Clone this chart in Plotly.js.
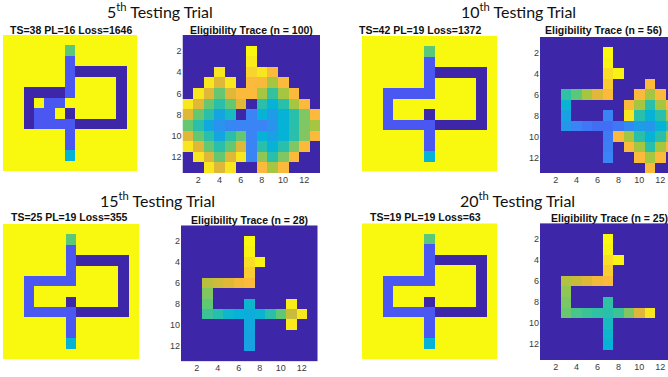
<!DOCTYPE html>
<html>
<head>
<meta charset="utf-8">
<script src="https://cdn.plot.ly/plotly-3.0.1.min.js"></script>
<style>html,body{margin:0;padding:0;background:#fff;}#chart{width:668px;height:377px;}</style>
</head>
<body>
<div id="chart"></div>
<script>
// ---------- data ----------
const gridIndex = [1,2,3,4,5,6,7,8,9,10,11,12,13];
const tickValues = [2,4,6,8,10,12];
const tickLabels = ["2","4","6","8","10","12"];

const trialTitles = ["5<sup>th</sup> Testing Trial","10<sup>th</sup> Testing Trial","15<sup>th</sup> Testing Trial","20<sup>th</sup> Testing Trial"];
const mazeTitles = ["TS=38 PL=16 Loss=1646","TS=42 PL=19 Loss=1372","TS=25 PL=19 Loss=355","TS=19 PL=19 Loss=63"];
const traceTitles = ["Eligibility Trace (n = 100)","Eligibility Trace (n = 56)","Eligibility Trace (n = 28)","Eligibility Trace (n = 25)"];

// maze maps: 0 = unused corridor, 0.2 = walked path, 0.45 = goal, 0.63 = start, 1 = background
const maze5 = [
 [1,1,1,1,1,1,1,1,1,1,1,1,1],
 [1,1,1,1,1,1,0.63,1,1,1,1,1,1],
 [1,1,1,1,1,1,0.2,1,1,1,1,1,1],
 [1,1,1,1,1,1,0.2,0,0,0,0,0,1],
 [1,1,1,1,1,1,0.2,1,1,1,1,0,1],
 [1,1,0,0,0,0,0.2,1,1,1,1,0,1],
 [1,1,0,1,0.2,0.2,1,1,1,1,1,0,1],
 [1,1,0,0.2,0.2,1,0,1,1,1,1,0,1],
 [1,1,0,0.2,0.2,0.2,0.2,0,0,0,0,0,1],
 [1,1,1,1,1,1,0.2,1,1,1,1,1,1],
 [1,1,1,1,1,1,0.2,1,1,1,1,1,1],
 [1,1,1,1,1,1,0.45,1,1,1,1,1,1],
 [1,1,1,1,1,1,1,1,1,1,1,1,1]
];
const maze10 = [
 [1,1,1,1,1,1,1,1,1,1,1,1,1],
 [1,1,1,1,1,1,0.63,1,1,1,1,1,1],
 [1,1,1,1,1,1,0.2,1,1,1,1,1,1],
 [1,1,1,1,1,1,0.2,0,0,0,0,0,1],
 [1,1,1,1,1,1,0.2,1,1,1,1,0,1],
 [1,1,0.2,0.2,0.2,0.2,0.2,1,1,1,1,0,1],
 [1,1,0.2,1,1,1,1,1,1,1,1,0,1],
 [1,1,0.2,1,1,1,0,1,1,1,1,0,1],
 [1,1,0.2,0.2,0.2,0.2,0.2,0,0,0,0,0,1],
 [1,1,1,1,1,1,0.2,1,1,1,1,1,1],
 [1,1,1,1,1,1,0.2,1,1,1,1,1,1],
 [1,1,1,1,1,1,0.45,1,1,1,1,1,1],
 [1,1,1,1,1,1,1,1,1,1,1,1,1]
];
const maze15 = [
 [1,1,1,1,1,1,1,1,1,1,1,1,1],
 [1,1,1,1,1,1,0.63,1,1,1,1,1,1],
 [1,1,1,1,1,1,0.2,1,1,1,1,1,1],
 [1,1,1,1,1,1,0.2,0,0,0,0,0,1],
 [1,1,1,1,1,1,0.2,1,1,1,1,0,1],
 [1,1,0.2,0.2,0.2,0.2,0.2,1,1,1,1,0,1],
 [1,1,0.2,1,1,1,1,1,1,1,1,0,1],
 [1,1,0.2,1,1,1,0,1,1,1,1,0,1],
 [1,1,0.2,0.2,0.2,0.2,0.2,0,0,0,0,0,1],
 [1,1,1,1,1,1,0.2,1,1,1,1,1,1],
 [1,1,1,1,1,1,0.2,1,1,1,1,1,1],
 [1,1,1,1,1,1,0.45,1,1,1,1,1,1],
 [1,1,1,1,1,1,1,1,1,1,1,1,1]
];
const maze20 = [
 [1,1,1,1,1,1,1,1,1,1,1,1,1],
 [1,1,1,1,1,1,0.63,1,1,1,1,1,1],
 [1,1,1,1,1,1,0.2,1,1,1,1,1,1],
 [1,1,1,1,1,1,0.2,0,0,0,0,0,1],
 [1,1,1,1,1,1,0.2,1,1,1,1,0,1],
 [1,1,0.2,0.2,0.2,0.2,0.2,1,1,1,1,0,1],
 [1,1,0.2,1,1,1,1,1,1,1,1,0,1],
 [1,1,0.2,1,1,1,0,1,1,1,1,0,1],
 [1,1,0.2,0.2,0.2,0.2,0.2,0,0,0,0,0,1],
 [1,1,1,1,1,1,0.2,1,1,1,1,1,1],
 [1,1,1,1,1,1,0.2,1,1,1,1,1,1],
 [1,1,1,1,1,1,0.45,1,1,1,1,1,1],
 [1,1,1,1,1,1,1,1,1,1,1,1,1]
];

// eligibility traces (normalised colour values)
const trace5 = [
 [0,0,0,0,0,0,0,0,0,0,0,0,0],
 [0,0,0,0,0,0,1.00,0,0,0,0,0,0],
 [0,0,0,0,0,0,0.98,0,0,0,0,0,0],
 [0,0,0,0.97,0,0,0.94,0.97,0.90,0,0,0,0],
 [0,0,0.97,0.84,0.97,0,0.90,0.89,0.75,0.90,0,0,0],
 [0,0.97,0.84,0.65,0.84,0.90,0.90,0.75,0.57,0.75,0.90,0,0],
 [0.97,0.84,0.65,0.55,0.65,0.84,0,0.55,0.45,0.55,0.75,0.90,0],
 [0.84,0.65,0.55,0.41,0.50,0,0.30,0.45,0.38,0.45,0.55,0.70,0.90],
 [0.65,0.55,0.42,0.35,0.31,0.30,0.30,0.30,0.35,0.45,0.55,0.70,0.75],
 [0.84,0.65,0.55,0.41,0.55,0.65,0.30,0.45,0.40,0.45,0.55,0.70,0.90],
 [0.97,0.84,0.65,0.55,0.65,0.84,0.30,0.55,0.45,0.55,0.70,0.90,0],
 [0,0.97,0.84,0.65,0.84,0.97,0.30,0.72,0.55,0.70,0.90,0,0],
 [0,0,0.97,0.84,0.97,0,0,0.90,0.75,0.90,0,0,0]
];
const trace10 = [
 [0,0,0,0,0,0,0,0,0,0,0,0,0],
 [0,0,0,0,0,0,1.00,0,0,0,0,0,0],
 [0,0,0,0,0,0,0.99,0,0,0,0,0,0],
 [0,0,0,0,0,0,0.96,0.99,0,0,0,0,0],
 [0,0,0,0,0,0,0.93,0,0,0,0.90,0,0],
 [0,0,0.56,0.63,0.75,0.84,0.90,0,0,0.90,0.75,0.90,0],
 [0,0,0.46,0,0,0,0,0,0.90,0.75,0.55,0.75,0.90],
 [0,0,0.40,0,0,0,0.30,0,0.97,0.55,0.45,0.55,0.75],
 [0,0,0.36,0.30,0.27,0.25,0.25,0.27,0.32,0.38,0.36,0.45,0.55],
 [0,0,0,0,0,0,0.28,0.90,0.75,0.55,0.45,0.55,0.75],
 [0,0,0,0,0,0,0.29,0,0.90,0.75,0.55,0.75,0.90],
 [0,0,0,0,0,0,0.30,0,0,0.90,0.75,0.90,0],
 [0,0,0,0,0,0,0,0,0,0,0.90,0,0]
];
const trace15 = [
 [0,0,0,0,0,0,0,0,0,0,0,0,0],
 [0,0,0,0,0,0,1.00,0,0,0,0,0,0],
 [0,0,0,0,0,0,0.99,0,0,0,0,0,0],
 [0,0,0,0,0,0,0.96,0.99,0,0,0,0,0],
 [0,0,0,0,0,0,0.93,0,0,0,0,0,0],
 [0,0,0.78,0.81,0.84,0.88,0.90,0,0,0,0,0,0],
 [0,0,0.70,0,0,0,0,0,0,0,0,0,0],
 [0,0,0.64,0,0,0,0.47,0,0,0,0.98,0,0],
 [0,0,0.58,0.54,0.47,0.45,0.43,0.46,0.55,0.64,0.80,0.97,0],
 [0,0,0,0,0,0,0.42,0,0,0,0.98,0,0],
 [0,0,0,0,0,0,0.41,0,0,0,0,0,0],
 [0,0,0,0,0,0,0.40,0,0,0,0,0,0],
 [0,0,0,0,0,0,0,0,0,0,0,0,0]
];
const trace20 = [
 [0,0,0,0,0,0,0,0,0,0,0,0,0],
 [0,0,0,0,0,0,1.00,0,0,0,0,0,0],
 [0,0,0,0,0,0,0.99,0,0,0,0,0,0],
 [0,0,0,0,0,0,0.96,0.99,0,0,0,0,0],
 [0,0,0,0,0,0,0.93,0,0,0,0,0,0],
 [0,0,0.77,0.80,0.84,0.88,0.90,0,0,0,0,0,0],
 [0,0,0.72,0,0,0,0,0,0,0,0,0,0],
 [0,0,0.69,0,0,0,0.56,0,0,0,0,0,0],
 [0,0,0.66,0.60,0.58,0.56,0.55,0.58,0.70,0.84,0.97,0,0],
 [0,0,0,0,0,0,0.50,0,0,0,0,0,0],
 [0,0,0,0,0,0,0.47,0,0,0,0,0,0],
 [0,0,0,0,0,0,0.45,0,0,0,0,0,0],
 [0,0,0,0,0,0,0,0,0,0,0,0,0]
];

// ---------- styling ----------
const parula = [
 [0.00,'#3E26A8'],[0.10,'#4636D8'],[0.20,'#4A57F0'],[0.30,'#3A84F5'],
 [0.40,'#18A2E4'],[0.45,'#06B2D6'],[0.55,'#2ABFAA'],[0.63,'#5AC878'],
 [0.70,'#80C662'],[0.75,'#A6C540'],[0.83,'#DCB838'],[0.90,'#FBBA3C'],
 [0.95,'#F8D92A'],[1.00,'#F9F90F']
];
const W = 668, H = 377;
const fx = p => p / W;
const fy = p => 1 - p / H;

// panel pixel boxes [x0,x1,y0,y1] and x ranges
const panels = [
 {z: maze5,  box:[3,137,35,171],     maze:true},
 {z: trace5, box:[182.5,320,35,173], maze:false, xr:[0.5,13.5]},
 {z: maze10, box:[362,497,36,171.5], maze:true},
 {z: trace10,box:[540,668,37,173.4], maze:false, xr:[0.5,12.74]},
 {z: maze15, box:[3,139,224,359],    maze:true},
 {z: trace15,box:[181,317.5,225.3,361.4], maze:false, xr:[0.5,13.5]},
 {z: maze20, box:[362,497,223.3,359],maze:true},
 {z: trace20,box:[540,668,223.2,360],maze:false, xr:[0.5,12.74]}
];

const tickFont = {family: "'Liberation Sans', Arial, sans-serif", size: 9, color: '#3a3a3a'};
const data = [];
const layout = {
  width: W, height: H,
  margin: {l:0, r:0, t:0, b:0},
  paper_bgcolor: '#ffffff', plot_bgcolor: '#ffffff',
  showlegend: false,
  annotations: []
};

panels.forEach((p, i) => {
  const n = i + 1;
  const xa = 'x' + (n === 1 ? '' : n), ya = 'y' + (n === 1 ? '' : n);
  data.push({
    type: 'heatmap', z: p.z, x: gridIndex, y: gridIndex,
    xaxis: xa, yaxis: ya, colorscale: parula, zmin: 0, zmax: 1,
    showscale: false, hoverinfo: 'skip', zsmooth: false
  });
  const xKey = 'xaxis' + (n === 1 ? '' : n), yKey = 'yaxis' + (n === 1 ? '' : n);
  const common = {showgrid:false, zeroline:false, showline:false, ticks:'', fixedrange:true};
  layout[xKey] = Object.assign({}, common, {
    domain: [fx(p.box[0]), fx(p.box[1])], anchor: ya,
    range: p.maze ? [0.5,13.5] : p.xr,
    visible: !p.maze,
    tickmode: 'array', tickvals: tickValues, ticktext: tickLabels,
    tickfont: tickFont
  });
  layout[yKey] = Object.assign({}, common, {
    domain: [fy(p.box[3]), fy(p.box[2])], anchor: xa,
    range: [13.5, 0.5],
    visible: !p.maze,
    tickmode: 'array', tickvals: tickValues, ticktext: tickLabels,
    tickfont: tickFont
  });
});

function addText(text, x, y, size, bold, family) {
  layout.annotations.push({
    text: bold ? '<b>' + text + '</b>' : text,
    x: fx(x), y: fy(y), xref: 'paper', yref: 'paper',
    xanchor: 'center', yanchor: 'middle', showarrow: false,
    font: {family: family, size: size, color: '#111111'}
  });
}
const bigFont = "Lato, 'Open Sans', sans-serif";
const smallFont = "'Liberation Sans', Arial, sans-serif";
const bigPos = [[160,11],[518,11],[157,199],[517,199]];
const mazePos = [[71,29.5],[420,29.5],[69,217.5],[425,217.5]];
const tracePos = [[252,29.5],[603,29.5],[249,220],[609,218]];
for (let k = 0; k < 4; k++) {
  addText(trialTitles[k], bigPos[k][0], bigPos[k][1], 16, false, bigFont);
  addText(mazeTitles[k], mazePos[k][0], mazePos[k][1], 10.5, true, smallFont);
  addText(traceTitles[k], tracePos[k][0], tracePos[k][1], 10.5, true, smallFont);
}

Plotly.newPlot('chart', data, layout, {staticPlot: true, displayModeBar: false});
</script>
</body>
</html>
